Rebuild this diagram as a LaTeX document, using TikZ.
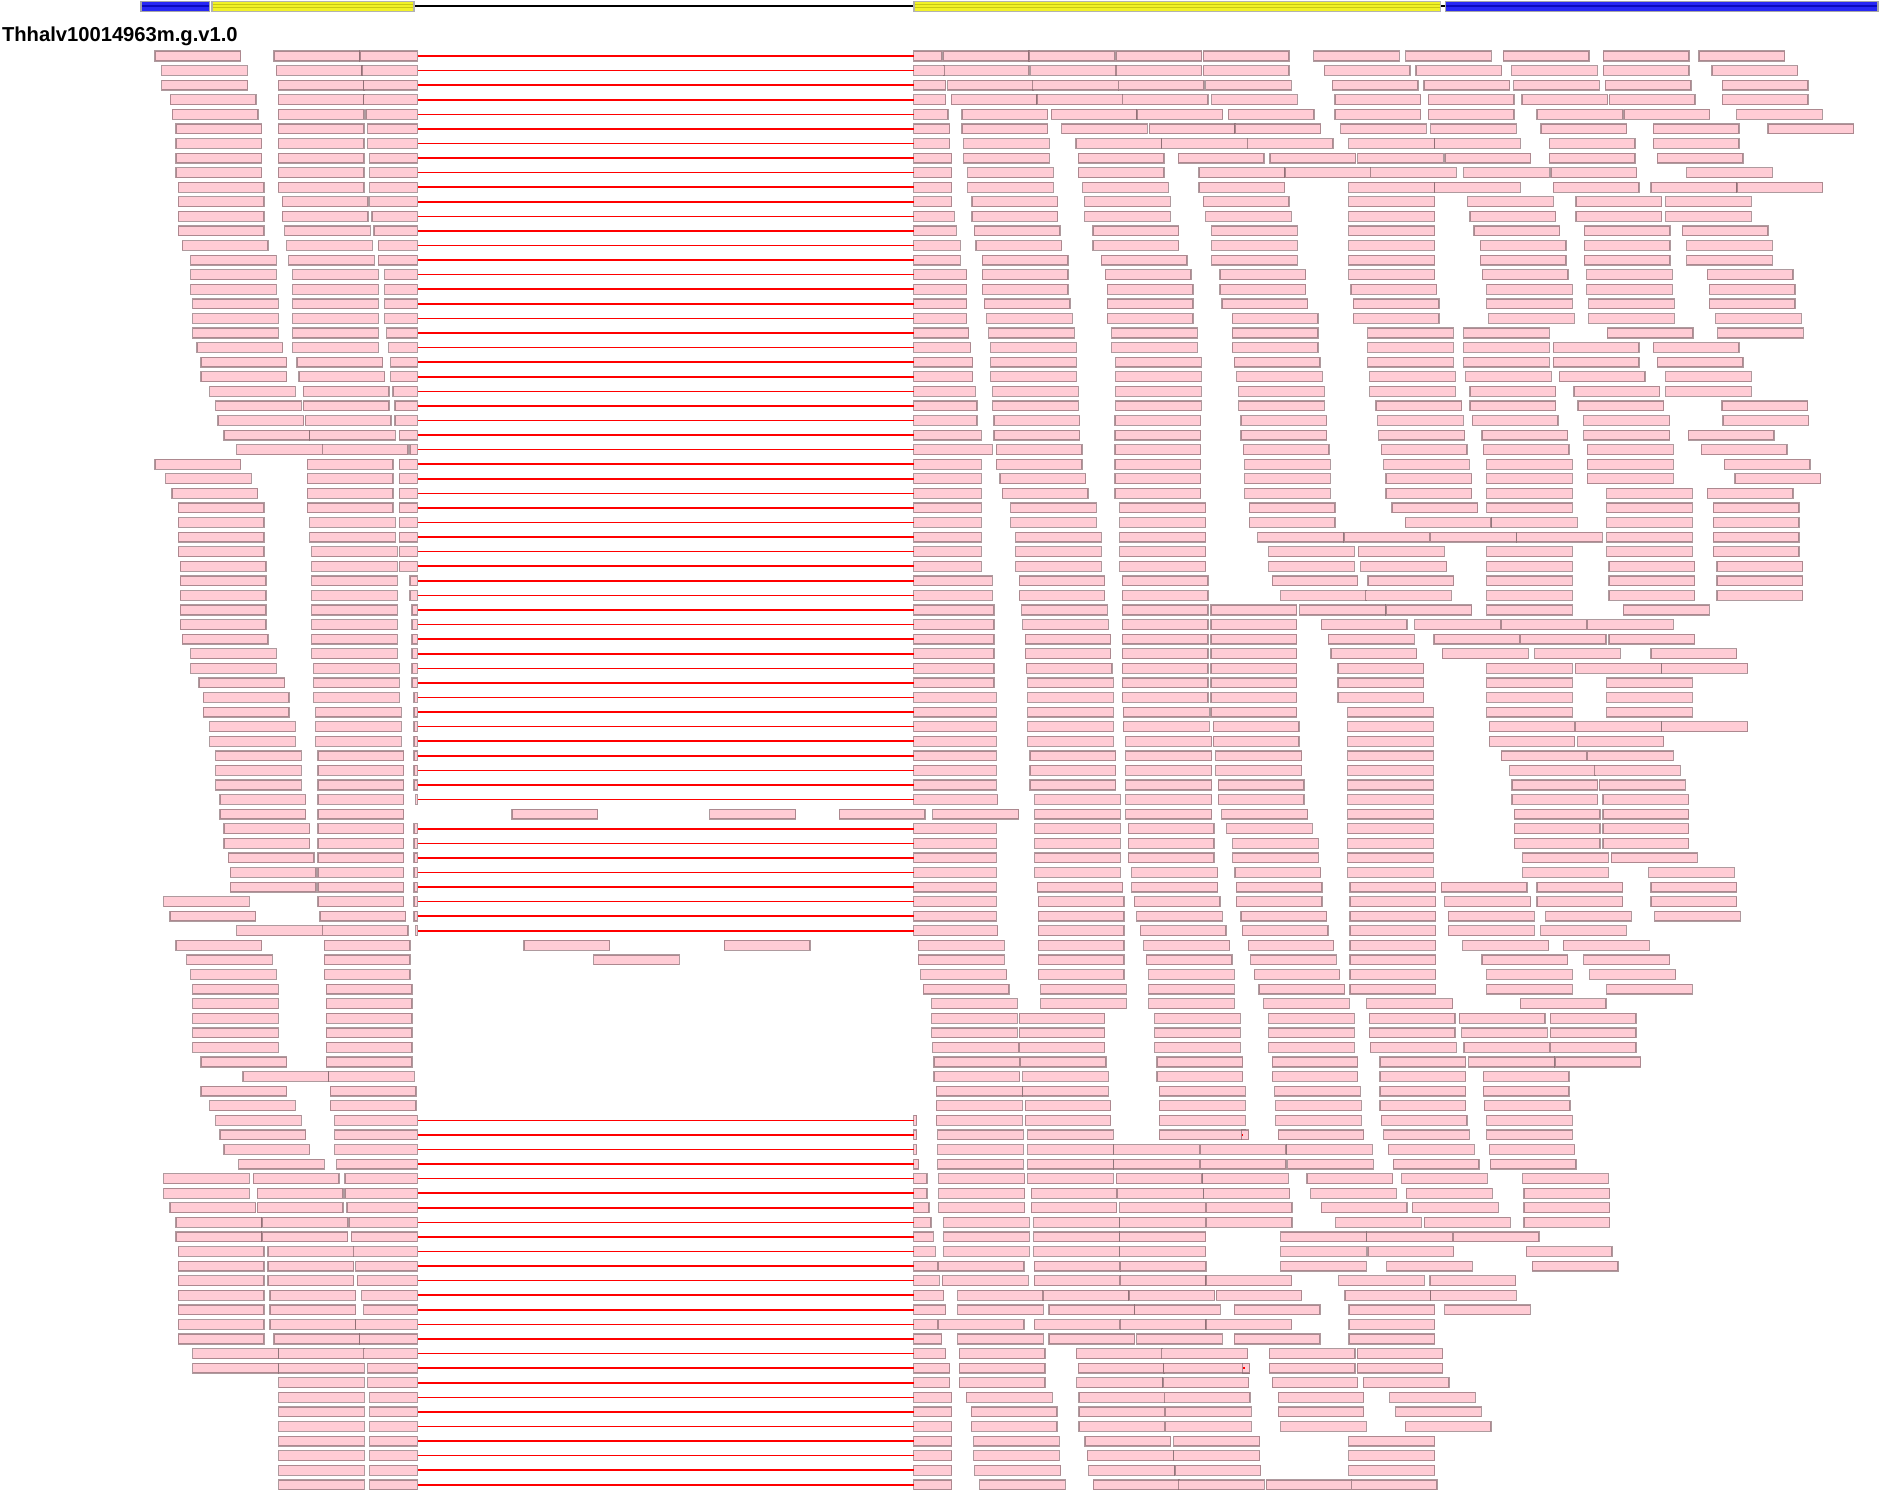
\documentclass[tikz,border=0pt]{standalone}
\usepackage{fontspec}
\newfontfamily\genefont{Liberation Sans}
\definecolor{readpink}{RGB}{255,204,213}
\definecolor{readedge}{RGB}{130,100,106}
\definecolor{utrblue}{RGB}{40,40,245}
\definecolor{utrdark}{RGB}{10,10,190}
\definecolor{cdsyellow}{RGB}{242,242,40}
\definecolor{cdsdark}{RGB}{200,200,20}
\definecolor{junctionred}{RGB}{255,0,0}
\tikzset{
  readbox/.style={fill=readpink,draw=readedge,draw opacity=0.65,line width=0.7pt},
  junction/.style={junctionred,line width=0.9pt},
  intron/.style={black,line width=0.9pt},
  utr/.style={fill=utrblue,draw=black!35,line width=0.6pt},
  cds/.style={fill=cdsyellow,draw=black!30,line width=0.6pt},
  utrmid/.style={utrdark,line width=1pt},
  cdsmid/.style={cdsdark,line width=0.5pt},
}

\begin{document}
\begin{tikzpicture}[x=0.024cm,y=-0.024cm]
  \path[use as bounding box] (0,0) rectangle (1568,1244.4);

  % gene model
  \draw[intron] (345.3,5) -- (762.3,5);
  \draw[intron] (1201.8,5) -- (1205.2,5);
  \draw[utr] (117.6,0.9) rectangle (175.1,9.7);
  \draw[utr] (1205.2,0.9) rectangle (1566.3,9.7);
  \draw[cds] (176.8,0.9) rectangle (345.3,9.7);
  \draw[cds] (762.3,0.9) rectangle (1201.8,9.7);
  \foreach \xa/\xb in {118.4/174.3,1206/1565.5}
    \draw[utrmid] (\xa,5.3) -- (\xb,5.3);
  \foreach \xa/\xb in {177.6/344.5,763.1/1201}{
    \draw[cdsmid] (\xa,4) -- (\xb,4);
    \draw[cdsmid] (\xa,6.6) -- (\xb,6.6);
  }
  \node[font=\genefont\bfseries\fontsize{11.5}{12}\selectfont,anchor=base west,inner sep=0pt]
    (title) at (1.4,34.8) {Thhalv10014963m.g.v1.0};

  % unspliced reads, by row
  \foreach \row/\starts in {
    1/{129.3,228.5,786.8,858.2,930.8,1003.6,1095.6,1172.3,1253.8,1337.2,1417},
    2/{134.8,230.5,786.8,859.6,930.8,1003.6,1104.5,1181,1260.7,1337.2,1427.8},
    3/{135,232,790.4,861.3,932.7,1005.6,1111.2,1187.6,1262.4,1338.9,1436.4},
    4/{142,232,793.4,864.9,936.1,1010.6,1113.4,1191.2,1269.4,1342.2,1436.4},
    5/{143.7,232,802.3,876.8,948.3,1024.5,1113.4,1191.2,1281.9,1354.4,1448.4},
    6/{146.8,232,802.3,885.5,958.6,1030,1118.1,1193.2,1285.2,1378.9,1474.5},
    7/{146.8,232,803.7,897.4,968.9,1040.3,1125,1196.5,1292.2,1378.9},
    8/{146.8,232,803.7,899.4,982.8,1059.2,1132.3,1205.1,1292.2,1382.2},
    9/{146.8,232,807,899.4,1000,1071.7,1143,1220.7,1293.5,1406.7},
    10/{148.7,232,807,903,1000,1125,1196.5,1295.5,1376.9,1448.7},
    11/{148.7,235.5,810.7,904.6,1003.6,1125,1224,1314.4,1389.2},
    12/{148.7,235.5,810.7,904.6,1005.6,1125,1226,1314.4,1389.2},
    13/{148.7,237.4,812.6,911.6,1010.6,1125,1229.3,1321.3,1403.1},
    14/{152.1,239.1,814,911.6,1010.6,1125,1234.6,1321.3,1406.7},
    15/{159,240.7,819.3,918.5,1010.6,1125,1234.6,1321.3,1406.7},
    16/{159,244.1,819.3,921.9,1017.5,1125,1236.3,1323.3,1424},
    17/{159,244.1,819.3,923.5,1017.5,1126.8,1239.9,1323.3,1425.6},
    18/{160.7,244.1,821,923.5,1019.2,1128.7,1239.9,1325,1425.6},
    19/{160.7,244.1,822.9,923.5,1027.8,1128.7,1241.6,1325,1430.9},
    20/{160.7,244.1,824.6,927.2,1027.8,1140.7,1220.7,1340.5,1432.5},
    21/{164.3,244.1,826.2,927.2,1027.8,1140.7,1220.7,1295.5,1378.9},
    22/{167.6,247.7,826.2,930.5,1029.5,1140.7,1220.7,1295.5,1382.2},
    23/{167.6,249.4,826.2,930.5,1031.4,1142.3,1222.4,1300.5,1389.2},
    24/{174.9,253,828,930.5,1033.1,1142.3,1226,1312.7,1389.2},
    25/{179.9,253,828,930.5,1033.1,1147.6,1226,1316.1,1436.2},
    26/{181.8,254.7,829,930,1035,1149,1228,1321,1437},
    27/{186.8,258.3,829,930,1035,1150,1236,1321,1408},
    28/{197.4,268.8,831,930,1037,1152,1237,1324,1419},
    29/{129.3,256.3,831,930,1038,1154,1240,1324,1438},
    30/{138.2,256.3,834,930,1038,1156,1240,1324,1447},
    31/{143.4,256.3,836,930,1038,1156,1240,1340,1424},
    32/{148.7,256.3,843,934,1042,1161,1240,1340,1429},
    33/{148.7,258.3,843,934,1042,1172,1244,1340,1429},
    34/{148.7,258.3,847,934,1049,1121,1193,1265,1340,1429},
    35/{148.7,260,847,934,1058,1133,1240,1340,1429},
    36/{150.4,260,847,934,1058,1135,1240,1342,1432},
    37/{150.4,260,850,936,1061,1141,1240,1342,1432},
    38/{150.4,260,850,936,1068,1139,1240,1342,1432},
    39/{150.4,260,852,936,1010,1084,1156,1240,1354},
    40/{150.4,260,853,936,1010,1102,1180,1252,1324},
    41/{152.1,260,855,936,1010,1108,1196,1268,1342},
    42/{159,260,855,936,1010,1110,1203,1280,1377},
    43/{159,261.6,856,936,1010,1116,1240,1314,1386},
    44/{166,261.6,857,936,1010,1116,1240,1340},
    45/{169.6,261.6,857,936,1010,1116,1240,1340},
    46/{169.6,263.3,857,937,1010,1124,1240,1340},
    47/{174.9,263.3,857,937,1012,1124,1242,1314,1386},
    48/{174.9,263.3,857,939,1012,1124,1242,1316},
    49/{179.9,265.2,859,939,1014,1124,1252,1324},
    50/{179.9,265.2,859,939,1014,1124,1259,1330},
    51/{179.9,265.2,859,939,1016,1124,1261,1334},
    52/{183.5,265.2,863,939,1016,1124,1261,1337},
    53/{183.5,265.2,427,592,700,778,863,939,1019,1124,1263,1337},
    54/{186.8,265.2,863,941,1023,1124,1263,1337},
    55/{186.8,265.2,863,941,1028,1124,1263,1337},
    56/{190.4,265.2,863,941,1028,1124,1270,1344},
    57/{192.1,265.2,863,944,1030,1124,1270,1375},
    58/{192.1,265.2,865,944,1031,1126,1202,1282,1377},
    59/{136.5,265.2,866,946,1031,1126,1205,1282,1377},
    60/{141.8,266.9,866,948,1035,1126,1208,1289,1380},
    61/{197.4,268.8,866,951,1036,1126,1208,1285},
    62/{146.8,270.5,437,604,766,866,954,1041,1126,1220,1304},
    63/{155.7,270.5,495,766,866,956,1043,1126,1236,1321},
    64/{159,270.5,768,866,958,1046,1126,1240,1326},
    65/{160.7,272.2,770,868,958,1050,1126,1240,1340},
    66/{160.7,272.2,777,868,958,1054,1140,1268},
    67/{160.7,272.2,777,850,963,1058,1142,1217,1293},
    68/{160.7,272.2,777,850,963,1058,1142,1219,1293},
    69/{160.7,272.2,778,850,963,1058,1143,1221,1293},
    70/{167.6,272.2,779,851,965,1061,1151,1225,1297},
    71/{202.7,274.1,779,853,965,1061,1151,1237},
    72/{167.6,275.5,781,853,967,1063,1151,1237},
    73/{174.9,275.5,781,855,967,1064,1151,1238},
    74/{179.9,781,855,967,1064,1152,1240},
    75/{183.5,782,857,967,1066,1154,1240},
    76/{186.8,782,857,929,1001,1073,1158,1242},
    77/{199,782,857,929,1001,1074,1162,1243},
    78/{136.5,211.3,783,857,931,1003,1090,1169,1270},
    79/{136.5,214.6,783,860,932,1004,1093,1173,1271},
    80/{141.8,214.6,783,860,934,1006,1102,1178,1271},
    81/{146.8,218.5,787,862,934,1006,1114,1188,1271},
    82/{146.8,218.5,787,862,934,1068,1140,1212},
    83/{148.7,223.5,787,862,934,1068,1141,1273},
    84/{148.7,223.5,782.5,862.6,934.4,1068.2,1156.4,1278},
    85/{148.7,223.5,786,862.6,934.4,1005.9,1116.5,1192.7},
    86/{148.7,225.2,798.6,869.8,941.6,1014.3,1121.8,1193.3},
    87/{148.7,225.2,798.6,874.9,946.4,1029.5,1125.1,1204.9},
    88/{148.7,225.2,782.5,862.6,934.4,1005.9,1125.1},
    89/{148.7,228.5,798.6,874.9,948.1,1029.5,1125.1},
    90/{160.7,232.4,800,897.8,969,1058.7,1131.9},
    91/{160.7,232.4,800,899.3,970.5,1058.7,1131.9},
    92/{232.4,800,898,970,1061,1137},
    93/{232.4,806,900,971,1066,1159},
    94/{232.4,810,900,972,1066,1164},
    95/{232.4,810,900,972,1068,1172},
    96/{232.4,812,905,979,1125},
    97/{232.4,812,907,979,1125},
    98/{232.4,813,908,980,1125},
    99/{232.4,817,912,983,1056,1127}}{
    \pgfmathsetmacro{\yc}{46.7+12.16*(\row-1)}
    \foreach \x in \starts
      \draw[readbox] (\x,{\yc-4.1}) rectangle ++(71.5,8.2);
  }

  % short read pieces with a mismatch mark
  \foreach \row/\xa/\xb in {75/1035.5/1041.5,91/1036.6/1042.3}{
    \pgfmathsetmacro{\yc}{46.7+12.16*(\row-1)}
    \draw[readbox] (\xa,{\yc-4.1}) rectangle (\xb,{\yc+4.1});
    \fill[junctionred] (\xa+0.4,{\yc-0.6}) rectangle ++(1,1.2);
  }

  % spliced reads across the intron
  \foreach \row/\a in {1/300.2,2/302,3/303.3,4/303.3,5/305.2,6/306.6,7/306.6,8/308.3,
    9/308.3,10/308.3,11/308.3,12/310.3,13/312,14/315.5,15/315.5,16/320.8,17/320.8,
    18/320.8,19/320.8,20/322.5,21/324.2,22/325.8,23/325.8,24/327.8,25/329.4,26/329.4,
    27/333,28/342,29/333,30/333,31/333,32/333,33/333,34/333,35/333,36/333,37/342,
    38/342,39/343.6,40/343.6,41/343.6,42/343.6,43/343.6,44/343.6,45/345.3,46/345.3,
    47/345.3,48/345.3,49/345.3,50/345.3,51/345.3,52/346.7,54/345.3,55/345.3,56/345.3,
    57/345.3,58/345.3,59/345.3,60/345.3,61/346.7,74/279.1,75/279.1,76/279.1,77/280.8,
    78/287.7,79/287.7,80/289.4,81/291,82/293,83/294.7,84/296.6,85/298,86/301.6,
    87/303.3,88/296.6,89/300,90/303.3,91/306.6,92/306.6,93/308.3,94/308.3,95/308.3,
    96/308.3,97/308.3,98/308.3,99/308.3}{
    \pgfmathsetmacro{\yc}{46.7+12.16*(\row-1)}
    \draw[readbox] (\a,{\yc-4.1}) rectangle (348,{\yc+4.1});
    \draw[readbox] (762,{\yc-4.1}) rectangle ({\a+485.5},{\yc+4.1});
    \draw[junction] (348.8,\yc) -- (762,\yc);
  }
\end{tikzpicture}
\end{document}
